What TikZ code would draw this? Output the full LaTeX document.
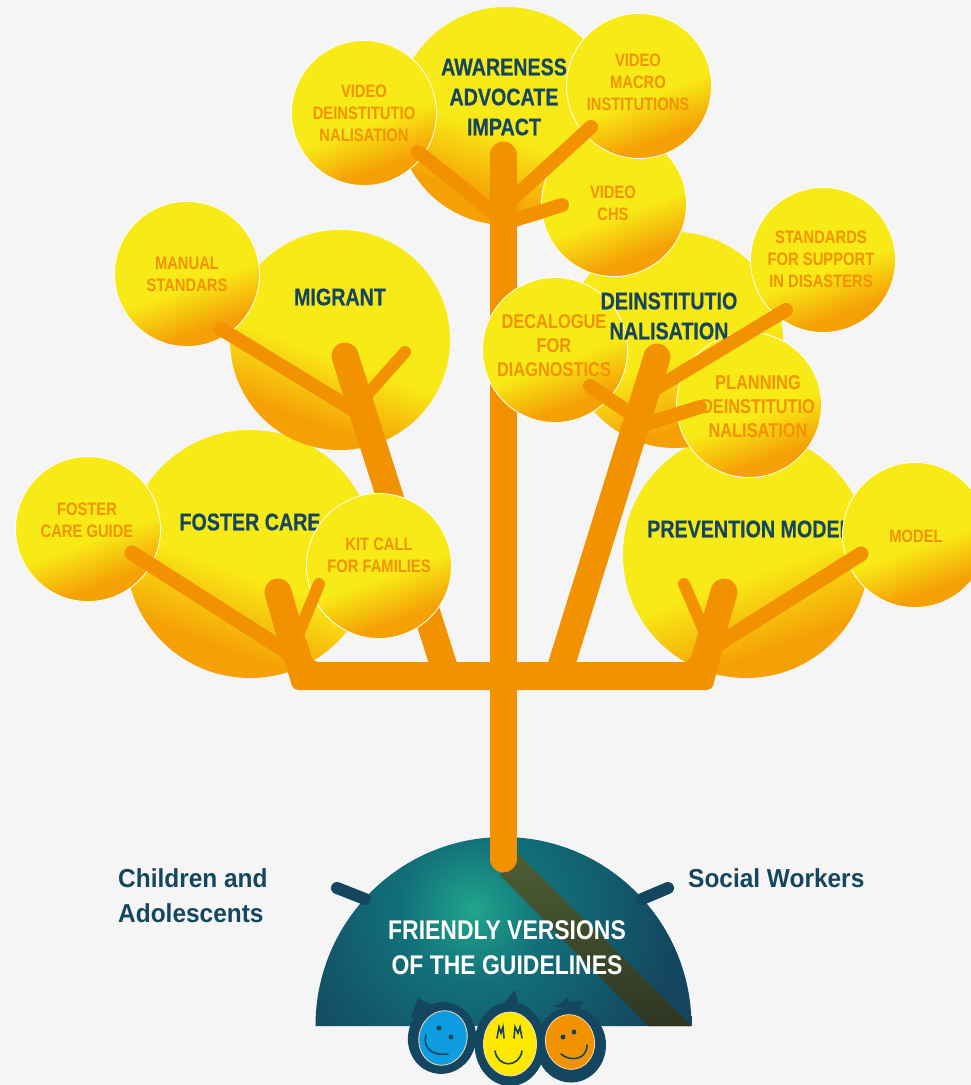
\documentclass[tikz,border=0pt]{standalone}
\usepackage{fontspec}
\usetikzlibrary{shapes.geometric}
\newfontfamily\labf[FakeStretch=0.82]{Liberation Sans Bold}
\newfontfamily\darkf[FakeStretch=0.82,FakeBold=0.5]{Liberation Sans Bold}
\newfontfamily\domef[FakeStretch=0.85]{Liberation Sans Bold}
\newfontfamily\sidef[FakeStretch=0.94]{Liberation Sans Bold}
\definecolor{bgc}{HTML}{F5F5F5}
\definecolor{ybl}{HTML}{F8EA16}
\definecolor{orb}{HTML}{F39200}
\definecolor{ballb}{HTML}{F5A005}
\definecolor{navy}{HTML}{14475F}
\definecolor{tealc}{HTML}{20A68C}
\definecolor{tealm}{HTML}{12707A}
\definecolor{bandt}{HTML}{4E5E34}
\definecolor{bandb}{HTML}{2E3622}
\definecolor{cream}{HTML}{F3DDB8}
\definecolor{faceb}{HTML}{0E9CE0}
\definecolor{facey}{HTML}{FFE800}
\pgfdeclareverticalshading{ballshade}{100bp}{color(0bp)=(ballb); color(30bp)=(ballb); color(46bp)=(ybl); color(100bp)=(ybl)}
\pgfdeclareradialshading{domeshade}{\pgfpoint{0bp}{0bp}}{color(0bp)=(tealc); color(6bp)=(tealm); color(17bp)=(navy); color(50bp)=(navy)}
\tikzset{
  bigball/.style={circle,inner sep=0pt,outer sep=0pt,shade,shading=ballshade,shading angle=#1},
  smallball/.style={circle,inner sep=0pt,outer sep=0pt,shade,shading=ballshade,shading angle=20,minimum size=145pt,draw=white,line width=0.8pt},
  darklab/.style={text=navy,align=center,inner sep=0pt,font={\darkf\fontsize{24}{30}\selectfont}},
  orlab/.style={text=orb,align=center,inner sep=0pt,font={\labf\fontsize{18}{22}\selectfont}},
  orlabb/.style={text=orb,align=center,inner sep=0pt,font={\labf\fontsize{20}{24}\selectfont}},
  sidelab/.style={text=navy,align=left,anchor=west,inner sep=0pt,font={\sidef\fontsize{26}{35}\selectfont}},
  domelab/.style={text=white,align=center,inner sep=0pt,font={\domef\fontsize{27}{35}\selectfont}},
  stem/.style={draw=orb,line width=27pt,line cap=round,line join=round},
  twig/.style={draw=orb,line width=14pt,line cap=round},
  thicktwig/.style={draw=orb,line width=15pt,line cap=round},
  thintwig/.style={draw=orb,line width=12pt,line cap=round},
  handle/.style={draw=navy,line width=12pt,line cap=round},
  head/.style={ellipse,fill=navy,inner sep=0pt,outer sep=0pt},
  face/.style={ellipse,draw=cream,line width=0.8pt,inner sep=0pt,outer sep=0pt},
  facemark/.style={draw=navy,line width=1.6pt,line cap=round},
  eye/.style={circle,fill=navy,inner sep=0pt,minimum size=5pt}
}
\begin{document}
\begin{tikzpicture}[x=1pt,y=-1pt]
\useasboundingbox (0,0) rectangle (971,1085);
\fill[bgc] (0,0) rectangle (971,1085);

% named joints
\coordinate (trunkTop) at (503,155);
\coordinate (trunkBot) at (503,859);
\coordinate (migTop) at (345,356);
\coordinate (migBot) at (447,676);
\coordinate (deiTop) at (657,357);
\coordinate (deiBot) at (558,676);
\coordinate (fosTop) at (278,592);
\coordinate (fosBot) at (296,655);
\coordinate (preTop) at (724,592);
\coordinate (preBot) at (706,655);

% dome
\begin{scope}
  \clip (315.5,1026) arc[start angle=180,end angle=360,x radius=188,y radius=189] -- cycle;
  \shade[shading=domeshade] (473,910) circle[radius=300];
  \shade[top color=bandt,bottom color=bandb] (517,853) -- (500,875) -- (648,1026) -- (692,1026) -- cycle;
\end{scope}
\coordinate (hl1) at (337,888); \coordinate (hl2) at (365,899);
\coordinate (hr1) at (668,888); \coordinate (hr2) at (642,899);
\draw[handle] (hl1) -- (hl2);
\draw[handle] (hr1) -- (hr2);
\node[domelab] (domeText) at (507,948) {FRIENDLY VERSIONS\\OF THE GUIDELINES};

% heads
\fill[navy] (411,1018) -- (418,998) -- (440,1010) -- cycle;
\fill[navy] (498,1010) -- (515,990) -- (520,1010) -- cycle;
\fill[navy] (552,1006) -- (562,1003) -- (567,997) -- (570,1002) -- (583,1001) -- (578,1012) -- cycle;
\node[head,minimum width=68pt,minimum height=72pt,rotate=-15] (headA) at (442,1038) {};
\node[head,minimum width=70pt,minimum height=75pt] (headC) at (571,1045) {};
\node[head,minimum width=71pt,minimum height=84pt] (headB) at (510,1044) {};
\node[face,fill=faceb,minimum width=48pt,minimum height=55pt,rotate=-15] (faceA) at (443,1038) {};
\node[face,fill=facey,minimum width=53pt,minimum height=64pt] (faceB) at (510,1044) {};
\node[face,fill=orb,minimum width=49pt,minimum height=55pt,rotate=12] (faceC) at (570,1042) {};
\node[eye] (eA1) at (439,1028) {}; \node[eye] (eA2) at (451,1037) {};
\draw[facemark] (426,1035) .. controls (422,1050) and (435,1056) .. (448,1054);
\draw[facemark] (497,1038) -- (499,1027) -- (501,1033) -- (503,1027) -- (504,1038);
\draw[facemark] (514,1038) -- (515,1027) -- (518,1033) -- (520,1027) -- (522,1038);
\draw[facemark] (495,1051) .. controls (498,1068) and (519,1068) .. (522,1051);
\node[eye] (eC1) at (563,1037) {}; \node[eye] (eC2) at (574,1032) {};
\draw[facemark] (561,1054) .. controls (570,1062) and (587,1060) .. (587,1045);

% big circles
\node[bigball=-20,minimum size=248pt] (foster) at (250,554) {};
\node[bigball=20,minimum size=246pt] (prevention) at (746,555) {};
\node[bigball=-20,minimum size=220pt] (migrant) at (340,340) {};
\node[bigball=17,minimum size=216pt] (deinst) at (675,340) {};
\node[bigball=-20,minimum size=218pt] (awareness) at (506,116) {};
\node[darklab,anchor=center] (tFoster) at (250,522) {FOSTER CARE};
\node[darklab,anchor=west] (tPrev) at (647,529) {PREVENTION MODEL};
\node[darklab] (tMigrant) at (340,297) {MIGRANT};
\node[darklab] (tAware) at (504,97) {AWARENESS\\ADVOCATE\\IMPACT};

% top circles
\node[smallball] (chs) at (614,204) {};
\node[orlab] (tChs) at (613,203) {VIDEO\\CHS};
\node[smallball] (vdei) at (364,113) {};
\node[orlab] (tVdei) at (364,113) {VIDEO\\DEINSTITUTIO\\NALISATION};
\node[smallball] (macro) at (639,86) {};
\node[orlab] (tMacro) at (638,82) {VIDEO\\MACRO\\INSTITUTIONS};

% trunk and awareness branches
\draw[stem] (trunkTop) -- (trunkBot);
\coordinate (a1) at (418,152); \coordinate (a1b) at (498,216);
\coordinate (a2) at (591,127); \coordinate (a2b) at (508,203);
\coordinate (a3) at (562,205); \coordinate (a3b) at (508,222);
\draw[twig] (a1) -- (a1b);
\draw[twig] (a2) -- (a2b);
\draw[twig] (a3) -- (a3b);

% small circles lower
\node[smallball] (manual) at (187,274) {};
\node[orlab] (tManual) at (187,274) {MANUAL\\STANDARS};
\node[smallball] (guide) at (88,529) {};
\node[orlab] (tGuide) at (87,520) {FOSTER\\CARE GUIDE};
\draw[stem] (migTop) -- (migBot);
\node[smallball] (kit) at (379,566) {};
\node[orlab] (tKit) at (379,555) {KIT CALL\\FOR FAMILIES};
\node[smallball] (model) at (915,535) {};
\node[orlab] (tModel) at (916,536) {MODEL};
\node[smallball] (decalogue) at (555,350) {};
\node[orlabb] (tDec) at (554,346) {DECALOGUE\\FOR\\DIAGNOSTICS};
\node[smallball] (standards) at (823,260) {};
\node[orlab] (tStd) at (821,259) {STANDARDS\\FOR SUPPORT\\IN DISASTERS};
\node[smallball] (planning) at (749,405) {};
\node[orlabb] (tPlan) at (758,407) {PLANNING\\DEINSTITUTIO\\NALISATION};
\node[darklab] (tDei) at (669,316) {DEINSTITUTIO\\NALISATION};

% migrant branches
\coordinate (m1) at (221,329); \coordinate (m1b) at (360,414);
\coordinate (m2) at (405,352); \coordinate (m2b) at (366,396);
\draw[twig] (m1) -- (m1b);
\draw[thintwig] (m2) -- (m2b);

% deinstitutionalisation branches
\draw[stem] (deiTop) -- (deiBot);
\coordinate (d1) at (786,310); \coordinate (d1b) at (650,392);
\coordinate (d2) at (590,386); \coordinate (d2b) at (640,420);
\coordinate (d3) at (700,407); \coordinate (d3b) at (640,426);
\draw[twig] (d1) -- (d1b);
\draw[twig] (d2) -- (d2b);
\draw[twig] (d3) -- (d3b);

% base of the tree
\fill[orb,rounded corners=5pt] (279,640) -- (293,690) -- (712,690) -- (729,625) -- (702,625) -- (689,662) -- (313,662) -- (305,635) -- cycle;
\draw[stem] (fosTop) -- (fosBot);
\draw[stem] (preTop) -- (preBot);
\coordinate (f1) at (132,553); \coordinate (f1b) at (292,655);
\coordinate (f2) at (319,584); \coordinate (f2b) at (296,640);
\coordinate (p1) at (861,554); \coordinate (p1b) at (712,648);
\coordinate (p2) at (684,584); \coordinate (p2b) at (706,635);
\draw[thicktwig] (f1) -- (f1b);
\draw[thintwig] (f2) -- (f2b);
\draw[thicktwig] (p1) -- (p1b);
\draw[thintwig] (p2) -- (p2b);

% side labels
\node[sidelab] (tChild) at (118,896) {Children and\\Adolescents};
\node[sidelab] (tSocial) at (688,878) {Social Workers};
\end{tikzpicture}
\end{document}
